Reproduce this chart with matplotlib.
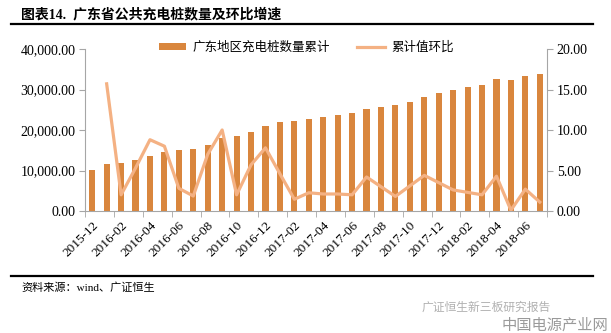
import numpy as np
import matplotlib.pyplot as plt
from matplotlib.ticker import FuncFormatter, FixedLocator

plt.rcParams['font.family'] = ['Liberation Serif', 'Noto Sans CJK SC']

# monthly data, 2015-12 .. 2018-07
months = ['2015-12', '2016-01', '2016-02', '2016-03', '2016-04', '2016-05', '2016-06', '2016-07',
          '2016-08', '2016-09', '2016-10', '2016-11', '2016-12', '2017-01', '2017-02', '2017-03',
          '2017-04', '2017-05', '2017-06', '2017-07', '2017-08', '2017-09', '2017-10', '2017-11',
          '2017-12', '2018-01', '2018-02', '2018-03', '2018-04', '2018-05', '2018-06', '2018-07']

# cumulative public charging piles in Guangdong
piles = [10080, 11640, 11800, 12540, 13520, 14590, 15160, 15330,
         16390, 18110, 18440, 19590, 20900, 21890, 22130, 22700,
         23200, 23610, 24100, 25080, 25660, 26230, 26970, 28110,
         29020, 29920, 30570, 31150, 32540, 32460, 33440, 33770]

# month-on-month growth of the cumulative value (%)
mom = [np.nan, 15.7, 2.0, 5.3, 8.8, 8.0, 2.8, 1.85,
       7.0, 10.0, 2.0, 5.7, 7.8, 4.6, 1.45, 2.25,
       2.1, 2.1, 2.0, 4.2, 3.0, 1.8, 3.1, 4.4,
       3.5, 2.6, 2.3, 2.0, 4.3, 0.1, 2.7, 1.1]

bar_color = '#D9863D'
line_color = '#F4B183'
spine_color = '#A6A6A6'

fig = plt.figure(figsize=(6.11, 3.33), dpi=100)
ax = fig.add_axes([85 / 611, 1 - 211 / 333, 462 / 611, 162 / 333])
ax2 = ax.twinx()

x = np.arange(len(months))
bars = ax.bar(x, piles, width=0.42, color=bar_color, label='广东地区充电桩数量累计', zorder=2)
line, = ax2.plot(x, mom, color=line_color, lw=2.3, label='累计值环比', zorder=3)

ax.set_xlim(-0.5, len(months) - 0.5)
ax.set_ylim(0, 40000)
ax2.set_ylim(0, 20)
ax.set_yticks([0, 10000, 20000, 30000, 40000])
ax2.set_yticks([0, 5, 10, 15, 20])
ax.yaxis.set_major_formatter(FuncFormatter(lambda v, p: f'{v:,.2f}'))
ax2.yaxis.set_major_formatter(FuncFormatter(lambda v, p: f'{v:.2f}'))

# labels every other month, tick marks on category boundaries
ax.set_xticks(x[::2])
ax.set_xticklabels(months[::2], rotation=45, ha='right', rotation_mode='anchor', fontsize=9.5)
ax.xaxis.set_minor_locator(FixedLocator(np.arange(-0.5, len(months), 2)))
ax.tick_params(axis='x', which='major', length=0, pad=6)
ax.tick_params(axis='x', which='minor', length=4, color=spine_color)
ax.tick_params(axis='y', length=4, color=spine_color, labelsize=10, pad=3)
ax2.tick_params(axis='y', length=4, color=spine_color, labelsize=10, pad=3)

for a in (ax, ax2):
    a.spines['top'].set_visible(False)
    for s in ('left', 'right', 'bottom'):
        a.spines[s].set_color(spine_color)
ax.spines['right'].set_visible(False)
ax2.spines['left'].set_visible(False)
ax2.spines['bottom'].set_visible(False)

fig.legend(handles=[bars, line], loc='center', bbox_to_anchor=(306 / 611, 1 - 47 / 333),
           ncol=2, frameon=False, handlelength=2.2, handleheight=0.5, columnspacing=2.2,
           handletextpad=0.5, prop={'family': 'Noto Sans CJK SC', 'size': 9})

# header, rules and footer
fig.text(21 / 611, 1 - 14 / 333, '图表14.  广东省公共充电桩数量及环比增速', fontsize=10,
         fontweight='bold', va='center', ha='left', family=['Liberation Serif', 'Noto Sans CJK SC'])
fig.add_artist(plt.Line2D([11 / 611, 593 / 611], [1 - 24 / 333] * 2, color='black', lw=1.6))
fig.add_artist(plt.Line2D([11 / 611, 593 / 611], [1 - 276 / 333] * 2, color='black', lw=1.6))
fig.text(21 / 611, 1 - 288 / 333, '资料来源：wind、广证恒生', fontsize=8, va='center', ha='left',
         family=['Liberation Serif', 'Noto Sans CJK SC'])
fig.text(422 / 611, 1 - 307 / 333, '广证恒生新三板研究报告', fontsize=8.5, va='center', ha='left',
         color='#B0B0B0', family='Noto Sans CJK SC')
fig.text(608 / 611, 1 - 325 / 333, '中国电源产业网', fontsize=11, va='center', ha='right',
         color='#9A9A9A', family='Noto Sans CJK SC')

fig.savefig('out.png', dpi=100, facecolor='white')
